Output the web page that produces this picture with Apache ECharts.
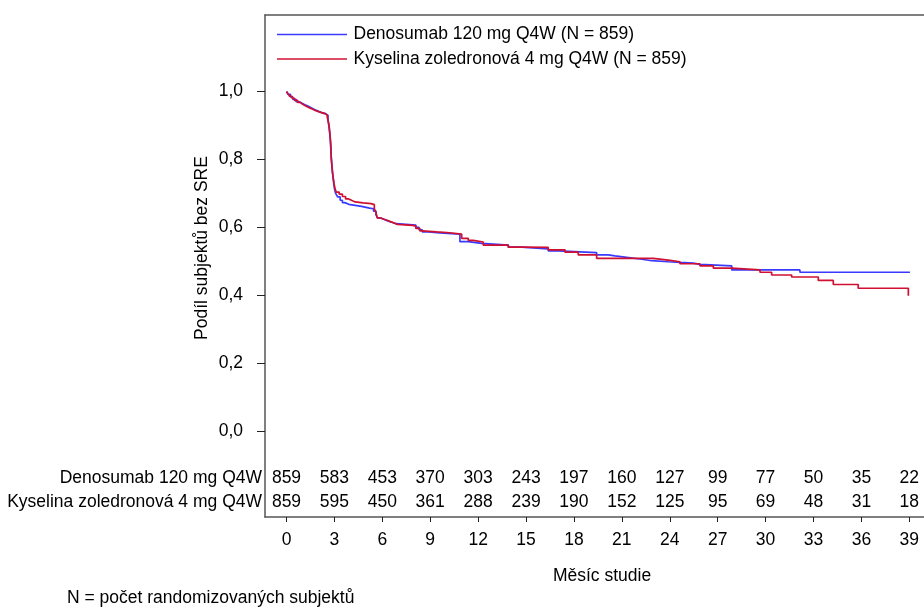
<!DOCTYPE html>
<html>
<head>
<meta charset="utf-8">
<script src="https://cdn.jsdelivr.net/npm/echarts@6/dist/echarts.min.js"></script>
<style>
  html, body { margin: 0; padding: 0; background: #fff; }
  #chart { width: 924px; height: 613px; }
</style>
</head>
<body>
<div id="chart"></div>
<script>
const seriesNames = ["Denosumab 120 mg Q4W (N = 859)", "Kyselina zoledronová 4 mg Q4W (N = 859)"];
const rowNames = ["Denosumab 120 mg Q4W", "Kyselina zoledronová 4 mg Q4W"];
const monthTicks = [0, 3, 6, 9, 12, 15, 18, 21, 24, 27, 30, 33, 36, 39];
const propTicks = [0, 0.2, 0.4, 0.6, 0.8, 1.0];
const atRiskDeno = [859, 583, 453, 370, 303, 243, 197, 160, 127, 99, 77, 50, 35, 22];
const atRiskZol = [859, 595, 450, 361, 288, 239, 190, 152, 125, 95, 69, 48, 31, 18];

// [month, proportion without SRE]
const denoCurve = [
  [0, 1.0], [0.1, 0.992], [0.25, 0.984], [0.4, 0.977], [0.6, 0.97], [0.8, 0.965],
  [1.0, 0.96], [1.2, 0.956], [1.4, 0.951], [1.6, 0.946], [1.8, 0.942], [2.0, 0.938],
  [2.2, 0.935], [2.45, 0.93], [2.6, 0.915], [2.68, 0.89], [2.74, 0.86], [2.8, 0.81],
  [2.87, 0.77], [2.93, 0.74], [3.0, 0.715], [3.08, 0.7], [3.2, 0.69], [3.36, 0.68],
  [3.5, 0.673], [3.65, 0.668], [3.9, 0.665], [4.3, 0.662], [4.7, 0.657], [5.2, 0.655],
  [5.45, 0.648], [5.6, 0.638], [5.7, 0.628], [5.9, 0.624], [6.1, 0.62], [6.3, 0.616],
  [6.55, 0.611], [6.85, 0.607], [8.1, 0.6], [8.3, 0.593], [8.5, 0.587], [8.9, 0.584],
  [9.6, 0.58], [10.86, 0.558], [11.38, 0.553], [12.22, 0.548], [13.89, 0.542],
  [14.73, 0.537], [16.39, 0.531], [17.02, 0.526], [19.42, 0.519], [20.15, 0.516],
  [20.57, 0.512], [21.3, 0.507], [22.14, 0.502], [22.87, 0.499], [23.91, 0.497],
  [24.64, 0.495], [25.47, 0.491], [25.89, 0.487], [27.88, 0.475], [32.15, 0.468],
  [39.04, 0.468]
];
const zolCurve = [
  [0, 1.0], [0.1, 0.993], [0.2, 0.986], [0.35, 0.98], [0.5, 0.974], [0.7, 0.968],
  [0.85, 0.963], [1.0, 0.959], [1.15, 0.955], [1.3, 0.952], [1.45, 0.948], [1.65, 0.944],
  [1.8, 0.941], [2.0, 0.938], [2.2, 0.935], [2.4, 0.931], [2.55, 0.925], [2.65, 0.905],
  [2.72, 0.876], [2.78, 0.84], [2.8, 0.803], [2.88, 0.76], [2.93, 0.745], [2.98, 0.728],
  [3.05, 0.712], [3.12, 0.704], [3.3, 0.698], [3.5, 0.691], [3.7, 0.684], [3.9, 0.679],
  [4.1, 0.675], [4.3, 0.672], [4.8, 0.67], [5.3, 0.667], [5.5, 0.655], [5.6, 0.645],
  [5.68, 0.628], [5.9, 0.624], [6.1, 0.621], [6.3, 0.617], [6.5, 0.613], [6.75, 0.609],
  [6.95, 0.606], [7.9, 0.604], [8.1, 0.597], [8.35, 0.59], [8.5, 0.587], [9.4, 0.585],
  [10.03, 0.58], [10.97, 0.568], [11.38, 0.562], [11.7, 0.557], [12.32, 0.548],
  [13.89, 0.542], [14.73, 0.541], [16.39, 0.534], [17.44, 0.527], [18.27, 0.519],
  [19.42, 0.509], [22.97, 0.504], [23.91, 0.499], [24.64, 0.493], [25.89, 0.487],
  [26.73, 0.48], [27.88, 0.475], [29.65, 0.468], [30.38, 0.46], [31.63, 0.454],
  [33.3, 0.444], [34.24, 0.432], [35.8, 0.421], [38.94, 0.399]
];

(function () {
  const chart = echarts.init(document.getElementById("chart"));
  const font = "'Liberation Sans', Arial, sans-serif";
  const fs = 17.5;
  const colors = { deno: "#3a3aff", zol: "#d01030", axis: "#555" };
  const rowY = [-0.1384, -0.2091];
  const xRange = { min: -1.346, max: 39.92 };

  function riskSeries(counts, y) {
    return {
      type: "scatter",
      data: monthTicks.map((m, i) => [m, y, counts[i]]),
      symbolSize: 0,
      silent: true,
      itemStyle: { opacity: 1 },
      label: {
        show: true,
        position: "inside",
        formatter: (p) => String(p.value[2]),
        color: "#000",
        opacity: 1,
        textBorderWidth: 0,
        fontFamily: font,
        fontSize: fs,
      },
    };
  }

  function text(x, y, str, align, rotation) {
    return {
      type: "text", x: x, y: y, rotation: rotation || 0,
      style: { text: str, fill: "#000", font: fs + "px " + font, align: align, verticalAlign: "middle" },
    };
  }

  chart.setOption({
    animation: false,
    textStyle: { fontFamily: font },
    grid: { left: 265, right: 0, top: 15, bottom: 96, outerBoundsMode: "none" },
    legend: {
      orient: "vertical",
      left: 272, top: 20.5,
      icon: "rect",
      itemWidth: 70, itemHeight: 1.5, itemGap: 6.5,
      data: seriesNames,
      textStyle: { color: "#000", fontFamily: font, fontSize: fs, padding: [0, 0, 0, 1.5] },
    },
    xAxis: [
      {
        type: "value",
        min: xRange.min, max: xRange.max,
        axisLine: { onZero: false, lineStyle: { color: colors.axis, width: 1.5 } },
        axisTick: { show: true, length: 5, customValues: monthTicks, lineStyle: { color: "#222" } },
        axisLabel: { customValues: monthTicks, margin: 14, color: "#000", fontFamily: font, fontSize: fs },
        splitLine: { show: false },
      },
      {
        type: "value", position: "top",
        min: xRange.min, max: xRange.max,
        axisLine: { show: true, onZero: false, lineStyle: { color: colors.axis, width: 1.5 } },
        axisTick: { show: false },
        axisLabel: { show: false },
        splitLine: { show: false },
      },
    ],
    yAxis: {
      type: "value",
      min: -0.2524, max: 1.2253,
      axisLine: { show: true, onZero: false, lineStyle: { color: colors.axis, width: 1.5 } },
      axisTick: { show: true, length: 8, customValues: propTicks, lineStyle: { color: "#222" } },
      axisLabel: {
        customValues: propTicks, margin: 22, color: "#000", fontFamily: font, fontSize: fs,
        formatter: (v) => v.toFixed(1).replace(".", ","),
      },
      splitLine: { show: false },
    },
    graphic: [
      text(202, 248, "Podíl subjektů bez SRE", "center", Math.PI / 2),
      text(602, 576, "Měsíc studie", "center"),
      text(67, 598, "N = počet randomizovaných subjektů", "left"),
      text(262, 478, rowNames[0], "right"),
      text(262, 502, rowNames[1], "right"),
    ],
    series: [
      {
        name: seriesNames[0], type: "line", step: "end", data: denoCurve,
        showSymbol: false, color: colors.deno, lineStyle: { width: 1.7, color: colors.deno }, z: 3,
      },
      {
        name: seriesNames[1], type: "line", step: "end", data: zolCurve,
        showSymbol: false, color: colors.zol, lineStyle: { width: 1.7, color: colors.zol }, z: 4,
      },
      riskSeries(atRiskDeno, rowY[0]),
      riskSeries(atRiskZol, rowY[1]),
    ],
  });
})();
</script>
</body>
</html>
